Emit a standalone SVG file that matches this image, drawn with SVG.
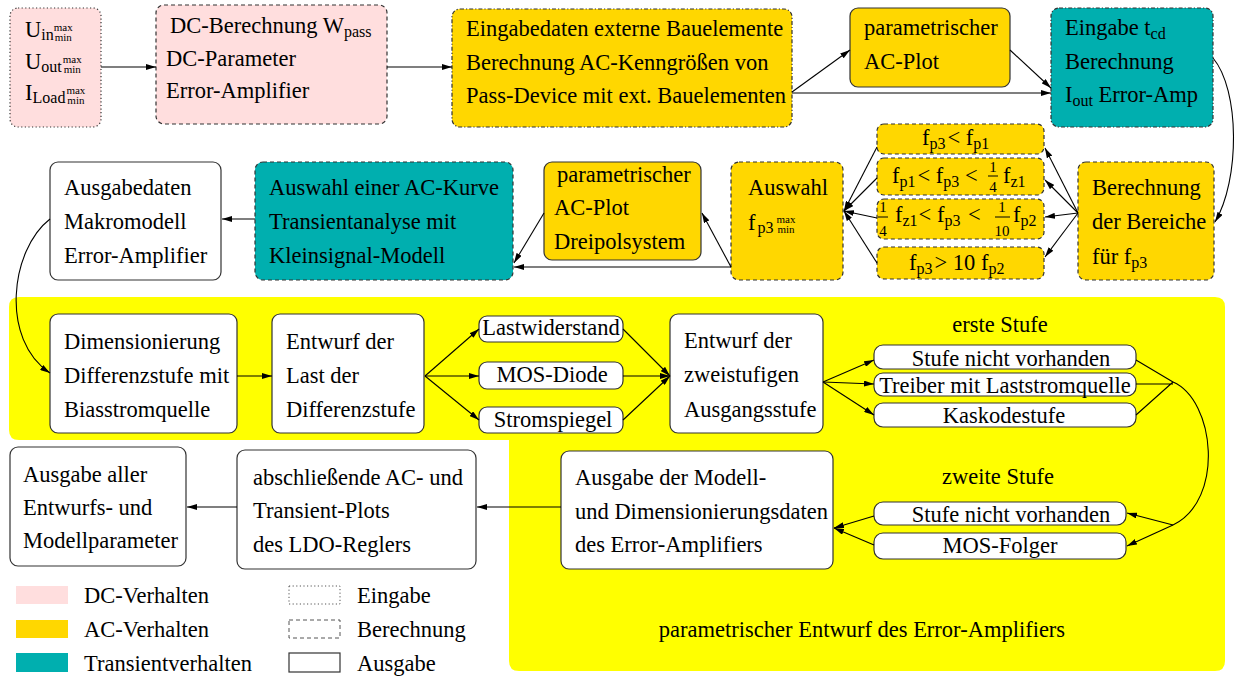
<svg xmlns="http://www.w3.org/2000/svg" width="1239" height="679" viewBox="0 0 1239 679">
<style>
.t{font-family:"Liberation Serif","Times New Roman",serif;font-size:22.5px;fill:#000}
.m{text-anchor:middle}
.s{font-size:16px}
.x{font-size:11px}
.fr{font-family:"Liberation Serif","Times New Roman",serif;font-size:15px;fill:#000;text-anchor:middle}
.b{stroke:#333;stroke-width:1.2}
.dc{fill:#FFDEDE}
.ac{fill:#FFD700}
.tr{fill:#00AFAF}
.wh{fill:#FFFFFF}
.dot{stroke-dasharray:1.2 2.4}
.dash{stroke-dasharray:4 3}
.dd{stroke-dasharray:4 2 1.2 2}
.c path{fill:none;stroke:#000;stroke-width:1.1}
.a{marker-end:url(#ah)}
.fl{stroke:#000;stroke-width:1}
</style>
<defs>
<marker id="ah" viewBox="0 0 10 6" refX="10" refY="3" markerWidth="10" markerHeight="6" markerUnits="userSpaceOnUse" orient="auto"><path d="M0,0 L10,3 L0,6 z" fill="#000"/></marker>
</defs>
<rect width="1239" height="679" fill="#fff"/>
<path id="region" d="M19,297 H1215 Q1225,297 1225,307 V661 Q1225,671 1215,671 H519 Q509,671 509,661 V440 H19 Q9,440 9,430 V307 Q9,297 19,297 Z" fill="#FFFF00"/>

<g id="n-input">
<rect x="10" y="8" width="91" height="119" rx="8" class="b dc dot"/>
<text class="t" x="25" y="37">U<tspan class="s" dy="3">in</tspan><tspan class="x" dy="-9">max</tspan><tspan class="x" dx="-18" dy="10">min</tspan></text>
<text class="t" x="25" y="69">U<tspan class="s" dy="3">out</tspan><tspan class="x" dx="1" dy="-9">max</tspan><tspan class="x" dx="-18" dy="10">min</tspan></text>
<text class="t" x="25" y="100">I<tspan class="s" dy="3">Load</tspan><tspan class="x" dx="1" dy="-9">max</tspan><tspan class="x" dx="-18" dy="10">min</tspan></text>
</g>
<g id="n-dc">
<rect x="156" y="5" width="231" height="119" rx="8" class="b dc dash"/>
<text class="t" x="170" y="33">DC-Berechnung W<tspan class="s" dy="4">pass</tspan></text>
<text class="t" x="166" y="66">DC-Parameter</text>
<text class="t" x="166" y="98">Error-Amplifier</text>
</g>
<g id="n-ext">
<rect x="452" y="9" width="340" height="118" rx="8" class="b ac dd"/>
<text class="t" x="466" y="36">Eingabedaten externe Bauelemente</text>
<text class="t" x="466" y="70">Berechnung AC-Kenngrößen von</text>
<text class="t" x="466" y="103">Pass-Device mit ext. Bauelementen</text>
</g>
<g id="n-acplot">
<rect x="850" y="8" width="160" height="79" rx="8" class="b ac"/>
<text class="t" x="864" y="35">parametrischer</text>
<text class="t" x="864" y="69">AC-Plot</text>
</g>
<g id="n-tcd">
<rect x="1051" y="8" width="162" height="119" rx="8" class="b tr dd"/>
<text class="t" x="1065" y="35">Eingabe t<tspan class="s" dy="4">cd</tspan></text>
<text class="t" x="1065" y="69">Berechnung</text>
<text class="t" x="1065" y="102">I<tspan class="s" dy="4">out</tspan><tspan dy="-4"> Error-Amp</tspan></text>
</g>

<g id="n-ausgabedaten">
<rect x="50" y="162" width="171" height="118" rx="8" class="b wh"/>
<text class="t" x="64" y="195">Ausgabedaten</text>
<text class="t" x="64" y="229">Makromodell</text>
<text class="t" x="64" y="263">Error-Amplifier</text>
</g>
<g id="n-kurve">
<rect x="255" y="162" width="258" height="118" rx="8" class="b tr dash"/>
<text class="t" x="269" y="195">Auswahl einer AC-Kurve</text>
<text class="t" x="269" y="229">Transientanalyse mit</text>
<text class="t" x="269" y="263">Kleinsignal-Modell</text>
</g>
<g id="n-dreipol">
<rect x="544" y="162" width="157" height="98" rx="8" class="b ac"/>
<text class="t" x="557" y="182">parametrischer</text>
<text class="t" x="554" y="215">AC-Plot</text>
<text class="t" x="554" y="249">Dreipolsystem</text>
</g>
<g id="n-auswahl">
<rect x="731" y="162" width="112" height="118" rx="8" class="b ac dash"/>
<text class="t" x="748" y="195">Auswahl</text>
<text class="t" x="748" y="230">f<tspan class="s" dx="2" dy="3">p3</tspan><tspan class="x" dx="3" dy="-10">max</tspan><tspan class="x" dx="-18" dy="10">min</tspan></text>
</g>
<g id="n-f1">
<rect x="877" y="124" width="167" height="30" rx="7" class="b ac dash"/>
<text class="t" x="922" y="145">f<tspan class="s" dy="4">p3</tspan><tspan dx="2" dy="-4">&lt; f</tspan><tspan class="s" dy="4">p1</tspan></text>
</g>
<g id="n-f2">
<rect x="877" y="158" width="167" height="37" rx="7" class="b ac dash"/>
<text class="t" x="892" y="183">f<tspan class="s" dy="4">p1</tspan><tspan dx="2" dy="-4">&lt; f</tspan><tspan class="s" dy="4">p3</tspan><tspan dy="-4"> &lt;</tspan></text>
<text class="fr" x="993" y="172">1</text><line x1="988" y1="176" x2="998" y2="176" class="fl"/><text class="fr" x="993" y="192">4</text>
<text class="t" x="1003" y="183">f<tspan class="s" dy="4">z1</tspan></text>
</g>
<g id="n-f3">
<rect x="877" y="199" width="167" height="40" rx="7" class="b ac dash"/>
<text class="fr" x="883" y="212">1</text><line x1="878" y1="217" x2="888" y2="217" class="fl"/><text class="fr" x="883" y="236">4</text>
<text class="t" x="895" y="222">f<tspan class="s" dy="4">z1</tspan><tspan dx="1" dy="-4">&lt; f</tspan><tspan class="s" dy="4">p3</tspan><tspan dx="2" dy="-4"> &lt;</tspan></text>
<text class="fr" x="1002" y="212">1</text><line x1="995" y1="217" x2="1010" y2="217" class="fl"/><text class="fr" x="1002" y="236">10</text>
<text class="t" x="1013" y="222">f<tspan class="s" dy="4">p2</tspan></text>
</g>
<g id="n-f4">
<rect x="877" y="247" width="167" height="32" rx="7" class="b ac dash"/>
<text class="t" x="909" y="270">f<tspan class="s" dy="4">p3</tspan><tspan dx="2" dy="-4">&gt; 10 f</tspan><tspan class="s" dy="4">p2</tspan></text>
</g>
<g id="n-bereiche">
<rect x="1078" y="162" width="136" height="118" rx="8" class="b ac dash"/>
<text class="t" x="1092" y="195">Berechnung</text>
<text class="t" x="1092" y="229">der Bereiche</text>
<text class="t" x="1092" y="264">für f<tspan class="s" dy="4">p3</tspan></text>
</g>

<g id="n-dim">
<rect x="50" y="314" width="187" height="119" rx="8" class="b wh"/>
<text class="t" x="64" y="349">Dimensionierung</text>
<text class="t" x="64" y="383">Differenzstufe mit</text>
<text class="t" x="64" y="417">Biasstromquelle</text>
</g>
<g id="n-last">
<rect x="272" y="314" width="152" height="119" rx="8" class="b wh"/>
<text class="t" x="286" y="349">Entwurf der</text>
<text class="t" x="286" y="383">Last der</text>
<text class="t" x="286" y="417">Differenzstufe</text>
</g>
<g id="n-lastw">
<rect x="479" y="316" width="144" height="26" rx="8" class="b wh"/>
<text class="t m" x="551" y="335">Lastwiderstand</text>
</g>
<g id="n-mosdiode">
<rect x="479" y="362" width="144" height="27" rx="8" class="b wh"/>
<text class="t m" x="552" y="382">MOS-Diode</text>
</g>
<g id="n-stromspiegel">
<rect x="479" y="407" width="144" height="26" rx="8" class="b wh"/>
<text class="t m" x="553" y="427">Stromspiegel</text>
</g>
<g id="n-zweistufig">
<rect x="670" y="314" width="153" height="119" rx="8" class="b wh"/>
<text class="t" x="684" y="348">Entwurf der</text>
<text class="t" x="684" y="382">zweistufigen</text>
<text class="t" x="684" y="417">Ausgangsstufe</text>
</g>
<text class="t m" x="1000" y="332">erste Stufe</text>
<g id="n-s1a">
<rect x="874" y="345" width="262" height="24" rx="9" class="b wh"/>
<text class="t m" x="1011" y="366">Stufe nicht vorhanden</text>
</g>
<g id="n-s1b">
<rect x="874" y="373" width="262" height="23" rx="9" class="b wh"/>
<text class="t m" x="1005" y="393">Treiber mit Laststromquelle</text>
</g>
<g id="n-s1c">
<rect x="874" y="403" width="262" height="24" rx="9" class="b wh"/>
<text class="t m" x="1004" y="423">Kaskodestufe</text>
</g>

<g id="n-ausgabeall">
<rect x="10" y="447" width="176" height="119" rx="8" class="b wh"/>
<text class="t" x="23" y="482">Ausgabe aller</text>
<text class="t" x="23" y="515">Entwurfs- und</text>
<text class="t" x="23" y="548">Modellparameter</text>
</g>
<g id="n-plots">
<rect x="237" y="450" width="239" height="119" rx="8" class="b wh"/>
<text class="t" x="253" y="485">abschließende AC- und</text>
<text class="t" x="253" y="518">Transient-Plots</text>
<text class="t" x="253" y="552">des LDO-Reglers</text>
</g>
<g id="n-modell">
<rect x="561" y="451" width="272" height="118" rx="8" class="b wh"/>
<text class="t" x="575" y="485">Ausgabe der Modell-</text>
<text class="t" x="575" y="519">und Dimensionierungsdaten</text>
<text class="t" x="575" y="552">des Error-Amplifiers</text>
</g>
<text class="t m" x="998" y="484">zweite Stufe</text>
<g id="n-s2a">
<rect x="874" y="502" width="252" height="23" rx="9" class="b wh"/>
<text class="t m" x="1011" y="522">Stufe nicht vorhanden</text>
</g>
<g id="n-s2b">
<rect x="874" y="533" width="252" height="26" rx="9" class="b wh"/>
<text class="t m" x="1000" y="553">MOS-Folger</text>
</g>
<text class="t m" x="862" y="637">parametrischer Entwurf des Error-Amplifiers</text>

<g id="legend">
<rect x="16" y="586" width="52" height="18" class="dc"/>
<rect x="16" y="620" width="52" height="18" class="ac"/>
<rect x="16" y="653" width="52" height="19" class="tr"/>
<text class="t" x="84" y="603">DC-Verhalten</text>
<text class="t" x="84" y="637">AC-Verhalten</text>
<text class="t" x="84" y="671">Transientverhalten</text>
<rect x="289" y="586" width="51" height="18" fill="none" stroke="#555" stroke-width="1" class="dot"/>
<rect x="289" y="620" width="51" height="18" fill="none" stroke="#555" stroke-width="1" class="dash"/>
<rect x="289" y="653" width="51" height="19" fill="none" stroke="#333" stroke-width="1.2"/>
<text class="t" x="357" y="603">Eingabe</text>
<text class="t" x="357" y="637">Berechnung</text>
<text class="t" x="357" y="671">Ausgabe</text>
</g>

<g id="connectors" class="c">
<path class="a" d="M101,67 H156"/>
<path class="a" d="M387,67 H452"/>
<path class="a" d="M792,92 L850,50"/>
<path class="a" d="M792,93 H1051"/>
<path class="a" d="M1010,50 L1051,88"/>
<path class="a" d="M1213,58 C1240,90 1240,180 1215,222"/>
<path class="a" d="M1078,213 L1045,148"/>
<path class="a" d="M1078,213 L1045,180"/>
<path class="a" d="M1078,213 L1045,217"/>
<path class="a" d="M1078,213 L1045,257"/>
<path class="a" d="M877,147 L844,211"/>
<path class="a" d="M877,178 L844,211"/>
<path class="a" d="M877,218 L844,211"/>
<path class="a" d="M877,263 L844,211"/>
<path class="a" d="M731,267 L702,213"/>
<path class="a" d="M731,267 H514"/>
<path class="a" d="M544,213 L514,263"/>
<path class="a" d="M255,219 H222"/>
<path class="a" d="M50,219 C10,250 0,340 50,373"/>
<path class="a" d="M237,376 H272"/>
<path class="a" d="M425,376 L479,329"/>
<path class="a" d="M425,376 H479"/>
<path class="a" d="M425,376 L479,420"/>
<path class="a" d="M623,329 L670,376"/>
<path class="a" d="M623,376 H670"/>
<path class="a" d="M623,420 L670,376"/>
<path class="a" d="M823,382 L874,360"/>
<path class="a" d="M823,382 L874,384"/>
<path class="a" d="M823,382 L874,415"/>
<path d="M1136,360 L1173,382 M1136,384 H1173 M1136,415 L1173,382"/>
<path d="M1173,382 C1215,400 1225,500 1173,525"/>
<path class="a" d="M1173,525 L1127,513"/>
<path class="a" d="M1173,525 L1127,546"/>
<path class="a" d="M874,516 L834,528"/>
<path class="a" d="M874,545 L834,528"/>
<path class="a" d="M561,507 H477"/>
<path class="a" d="M237,507 H187"/>
</g>
</svg>
